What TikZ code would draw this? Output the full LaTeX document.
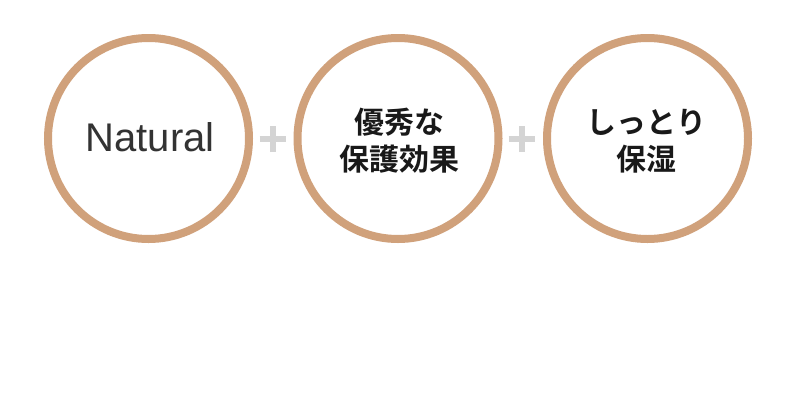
\documentclass[tikz,border=0pt]{standalone}
\usepackage{fontspec}
\setmainfont{Liberation Sans}
\newfontfamily\cjk{Noto Sans CJK JP}[BoldFont={* Bold}]
\definecolor{ring}{RGB}{208,161,123}
\definecolor{plusgray}{RGB}{212,212,212}
\definecolor{txtdark}{RGB}{51,51,51}
\begin{document}
\begin{tikzpicture}[x=1pt,y=-1pt,
  ringc/.style={circle,draw=ring,line width=8pt,minimum size=201pt,inner sep=0pt},
  plus/.style={draw=plusgray,line width=6pt},
  jp/.style={font=\cjk\bfseries\fontsize{30}{37}\selectfont,text=black!90,align=center},
  en/.style={font=\fontsize{40}{44}\selectfont,text=txtdark}]
\fill[white] (0,0) rectangle (800,400);
\useasboundingbox (0,0) rectangle (800,400);
\node[ringc] (c1) at (148.5,138.5) {};
\node[ringc] (c2) at (398,138.5) {};
\node[ringc] (c3) at (647.5,138.5) {};
\node[en] (t1) at (150,137) {Natural};
\node[jp] (t2) at (399,141) {優秀な\\保護効果};
\node[jp] (t3) at (646,141) {しっとり\\保湿};
\coordinate (p1) at (272.5,139);
\coordinate (p2) at (521.5,139);
\draw[plus] ([xshift=-13pt]p1) -- ([xshift=13pt]p1);
\draw[plus] ([yshift=-13pt]p1) -- ([yshift=13pt]p1);
\draw[plus] ([xshift=-13pt]p2) -- ([xshift=13pt]p2);
\draw[plus] ([yshift=-13pt]p2) -- ([yshift=13pt]p2);
\end{tikzpicture}
\end{document}
